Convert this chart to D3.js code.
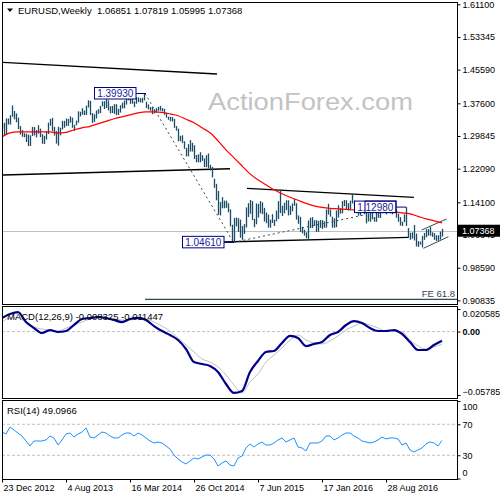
<!DOCTYPE html>
<html>
<head>
<meta charset="utf-8">
<script src="https://cdnjs.cloudflare.com/ajax/libs/d3/7.8.5/d3.min.js"></script>
<style>
  body { margin: 0; background: #fff; }
  text { font-family: "Liberation Sans", Arial, sans-serif; font-size: 9.5px; }
  .ax text { font-size: 9px; }
</style>
</head>
<body>
<svg id="chart" width="500" height="500"></svg>
<script>
// weekly EURUSD bars, first bar = week of 23 Dec 2012
const firstWeek = '23 Dec 2012';
const highs = [
  1.3270,1.3300,1.3404,1.3400,1.3480,1.3711,1.3580,1.3520,1.3420,1.3220,
  1.3125,1.3050,1.3040,1.3020,1.3000,1.3200,1.3200,1.3125,1.3240,1.3160,
  1.3030,1.2990,1.3100,1.3300,1.3390,1.3416,1.3200,1.3100,1.3205,1.3180,
  1.3345,1.3345,1.3400,1.3390,1.3450,1.3420,1.3250,1.3350,1.3570,1.3560,
  1.3645,1.3590,1.3705,1.3832,1.3820,1.3530,1.3500,1.3590,1.3620,1.3700,
  1.3810,1.3810,1.3893,1.3830,1.3690,1.3700,1.3740,1.3740,1.3630,1.3715,
  1.3775,1.3825,1.3915,1.3967,1.3935,1.3880,1.3810,1.3905,1.3900,1.3880,
  1.3890,1.3993,1.3800,1.3735,1.3670,1.3670,1.3620,1.3645,1.3675,1.3700,
  1.3650,1.3630,1.3530,1.3445,1.3440,1.3435,1.3390,1.3220,1.3160,1.2990,
  1.3000,1.2860,1.2705,1.2790,1.2887,1.2825,1.2765,1.2535,1.2550,1.2600,
  1.2530,1.2455,1.2530,1.2570,1.2300,1.2250,1.1970,1.1850,1.1680,1.1420,
  1.1535,1.1450,1.1450,1.1390,1.1245,1.0880,1.1040,1.1050,1.1035,1.1000,
  1.0850,1.0895,1.1290,1.1390,1.1467,1.1440,1.1020,1.1385,1.1375,1.1440,
  1.1410,1.1280,1.1170,1.1120,1.1000,1.1130,1.1000,1.1215,1.1440,1.1714,
  1.1330,1.1400,1.1460,1.1460,1.1330,1.1385,1.1495,1.1390,1.1100,1.1065,
  1.0830,1.0760,1.0700,1.0980,1.1045,1.1060,1.0985,1.0990,1.0970,1.0990,
  1.0990,1.0960,1.1240,1.1376,1.1240,1.1070,1.1030,1.1220,1.1340,1.1270,
  1.1440,1.1465,1.1460,1.1390,1.1450,1.1616,1.1450,1.1350,1.1250,1.1370,
  1.1415,1.1300,1.1428,1.1150,1.1185,1.1185,1.1060,1.1200,1.1235,1.1200,
  1.1366,1.1340,1.1230,1.1325,1.1285,1.1260,1.1260,1.1240,1.1140,1.1060,
  1.0950,1.1125,1.1299,1.0800,1.0690,1.0700,1.0875,1.0670,1.0490,1.0480,
  1.0615,1.0685,1.0775,1.0775,1.0830,1.0700,1.0680,1.0630,1.0630,1.0715,
  1.07819
];
const lows = [
  1.3180,1.3000,1.3020,1.3256,1.3256,1.3440,1.3380,1.3311,1.3145,1.3020,
  1.2966,1.2955,1.2843,1.2745,1.2750,1.2985,1.3000,1.2950,1.3040,1.2960,
  1.2800,1.2796,1.2900,1.3030,1.3230,1.3100,1.2995,1.2805,1.2755,1.3000,
  1.3140,1.3180,1.3220,1.3225,1.3300,1.3180,1.3105,1.3240,1.3300,1.3450,
  1.3490,1.3480,1.3485,1.3660,1.3480,1.3295,1.3320,1.3400,1.3510,1.3530,
  1.3690,1.3625,1.3650,1.3590,1.3520,1.3530,1.3510,1.3480,1.3480,1.3540,
  1.3640,1.3640,1.3730,1.3830,1.3750,1.3750,1.3670,1.3750,1.3790,1.3780,
  1.3775,1.3830,1.3650,1.3615,1.3585,1.3503,1.3520,1.3540,1.3580,1.3585,
  1.3570,1.3490,1.3420,1.3370,1.3335,1.3330,1.3180,1.3110,1.2860,1.2860,
  1.2815,1.2680,1.2500,1.2500,1.2615,1.2615,1.2440,1.2360,1.2360,1.2360,
  1.2395,1.2245,1.2245,1.2220,1.2165,1.2000,1.1755,1.1460,1.1115,1.1100,
  1.1270,1.1270,1.1280,1.1175,1.0840,1.0495,1.0461,1.0840,1.0710,1.0570,
  1.0520,1.0660,1.0815,1.1060,1.1140,1.0990,1.0820,1.0890,1.1050,1.1150,
  1.1130,1.0955,1.0915,1.0810,1.0810,1.0920,1.0850,1.0960,1.1015,1.1155,
  1.1085,1.1150,1.1225,1.1100,1.1110,1.1200,1.1330,1.1000,1.0900,1.0710,
  1.0675,1.0620,1.0560,1.0524,1.0800,1.0800,1.0850,1.0710,1.0710,1.0805,
  1.0780,1.0810,1.0810,1.1120,1.1070,1.0810,1.0810,1.0820,1.1050,1.1140,
  1.1150,1.1320,1.1235,1.1215,1.1220,1.1385,1.1310,1.1180,1.1095,1.1100,
  1.1230,1.1130,1.0912,1.0960,1.0950,1.1010,1.0950,1.0950,1.1045,1.1040,
  1.1155,1.1160,1.1125,1.1210,1.1150,1.1125,1.1170,1.1045,1.0950,1.0860,
  1.0850,1.0940,1.0850,1.0570,1.0520,1.0550,1.0505,1.0365,1.0352,1.0405,
  1.0340,1.0520,1.0580,1.0620,1.0620,1.0590,1.0520,1.0495,1.0500,1.0525,
  1.05995
];

// red moving average, one value every 4 weeks
const maStep = 4;
const maValues = [
  1.2966,1.3060,1.3084,1.3084,1.3084,1.3084,1.3084,1.3060,1.3072,1.3132,
  1.3179,1.3215,1.3274,1.3333,1.3393,1.3440,1.3487,1.3535,1.3559,1.3559,
  1.3547,1.3511,1.3464,1.3381,1.3298,1.3179,1.3060,1.2871,1.2657,1.2467,
  1.2277,1.2087,1.1945,1.1826,1.1708,1.1613,1.1530,1.1459,1.1387,1.1328,
  1.1292,1.1269,1.1257,1.1245,1.1233,1.1233,1.1221,1.1209,1.1209,1.1186,
  1.1162,1.1138,1.1079,1.1019,1.0972,1.0925
];

// MACD(12,26,9), one value every 4 weeks
const macdStep = 4;
const macdMain = [
  0.0124,0.016,0.0178,0.0087,0.0032,-0.0013,0.0014,-0.0004,0.0005,0.006,
  0.0115,0.0124,0.0133,0.0124,0.0105,0.0087,0.0115,0.0124,0.0105,0.005,
  0.0005,-0.0031,-0.0077,-0.0159,-0.0278,-0.0296,-0.0314,-0.0369,-0.0478,-0.056,
  -0.0542,-0.0369,-0.0268,-0.0186,-0.0177,-0.0104,-0.004,-0.0059,-0.0133,-0.0113,
  -0.0095,-0.0031,-0.0004,0.006,0.0096,0.0078,0.0032,0.0005,0.0005,0.0014,
  -0.0022,-0.0095,-0.0168,-0.0168,-0.0122,-0.008325
];
const macdSignal = [
  0.0087,0.0124,0.0124,0.0087,0.0042,0.0023,0.0014,0.0005,0.0032,0.006,
  0.0087,0.0115,0.0124,0.0124,0.0115,0.0105,0.0105,0.0115,0.0115,0.0087,
  0.005,0.0005,-0.0059,-0.0122,-0.0186,-0.025,-0.0278,-0.0323,-0.0396,-0.0487,
  -0.056,-0.046,-0.0387,-0.0278,-0.0214,-0.015,-0.0077,-0.0031,-0.0077,-0.0104,
  -0.0113,-0.0086,-0.004,0.0014,0.005,0.0078,0.006,0.0032,0.0005,0.0005,
  -0.0004,-0.0077,-0.0131,-0.0159,-0.0141,-0.011447
];

// RSI(14), one value every 2 weeks
const rsiStep = 2;
const rsiValues = [
  60.0,57.4,66.5,62.6,58.7,54.8,48.4,41.9,48.4,48.4,
  48.4,49.7,54.8,52.3,43.2,49.7,57.4,58.7,53.5,57.4,
  60.0,65.2,53.5,52.3,56.1,60.0,58.7,54.8,52.3,52.3,
  56.1,58.7,58.7,54.8,58.7,56.1,52.3,48.4,45.8,47.1,
  45.8,41.9,38.1,30.3,25.2,21.3,18.7,22.6,26.5,25.2,
  27.7,30.3,30.3,25.2,16.1,20.0,22.6,17.4,16.1,26.5,
  29.0,39.4,44.5,40.6,44.5,47.1,43.2,43.2,45.8,49.7,
  52.3,47.1,49.7,52.3,40.6,39.4,35.5,45.8,45.8,45.8,
  48.4,54.8,54.8,49.7,52.3,56.1,58.7,58.7,54.8,52.3,
  48.4,47.1,45.8,47.1,49.7,53.5,51.0,52.3,52.3,51.0,
  43.2,45.8,36.8,34.2,36.8,39.4,44.5,47.1,45.8,41.9,49.1
];

const priceTicks = [1.611, 1.53345, 1.4559, 1.376, 1.29845, 1.2209, 1.141, 1.06345, 0.9859, 0.90835];
const macdTicks = [0.020585, 0, -0.057859];
const rsiTicks = [100, 70, 30, 0];
const rsiLevels = [70, 30];
const dateTicks = [0, 32, 64, 96, 128, 160, 192];
const dateLabels = ['23 Dec 2012', '4 Aug 2013', '16 Mar 2014', '26 Oct 2014', '7 Jun 2015', '17 Jan 2016', '28 Aug 2016'];

// drawn objects: [week, price] pairs
const trendLines = [
  [[0, 1.4734], [107.5, 1.4456]],
  [[0, 1.2059], [114, 1.2208]],
  [[122.5, 1.1743], [206, 1.1530]],
  [[110.5, 1.0469], [203.5, 1.0580]]
];
const wedgeLines = [
  [[209.8, 1.0754], [222.3, 1.1015]],
  [[210.7, 1.0319], [223.2, 1.0595]]
];
const dashedLines = [
  [[71.5, 1.3993], [115.8, 1.0461]],
  [[115.8, 1.0461], [181, 1.1110]]
];
const swingLabels = [
  { text: '1.39930', week: 72, price: 1.3993 },
  { text: '1.04610', week: 116, price: 1.0461 },
  { text: '1.12980', week: 202, price: 1.1298 }
];
const feLevel = 0.9110, feStart = 71.5;
const lastPrice = 1.07368;
const title = 'EURUSD,Weekly  1.06851 1.07819 1.05995 1.07368';
const macdTitle = 'MACD(12,26,9) -0.008325 -0.011447';
const rsiTitle = 'RSI(14) 49.0966';

const svg = d3.select('#chart');
svg.append('rect').attr('width', 500).attr('height', 500).attr('fill', '#fff');

const x = d3.scaleLinear().domain([0, 227.5]).range([2, 457]);
const yP = d3.scaleLinear().domain([0.90835, 1.611]).range([300.4, 4.3]);
const yM = d3.scaleLinear().domain([-0.057859, 0.020585]).range([395, 309]);
const yR = d3.scaleLinear().domain([0, 100]).range([478.5, 401]);

const defs = svg.append('defs');
defs.append('clipPath').attr('id', 'clipMain').append('rect')
  .attr('x', 3).attr('y', 3).attr('width', 454).attr('height', 301);
defs.append('clipPath').attr('id', 'clipMacd').append('rect')
  .attr('x', 3).attr('y', 307).attr('width', 454).attr('height', 91);
defs.append('clipPath').attr('id', 'clipRsi').append('rect')
  .attr('x', 3).attr('y', 401).attr('width', 454).attr('height', 78);

const main = svg.append('g').attr('clip-path', 'url(#clipMain)');
const macdG = svg.append('g').attr('clip-path', 'url(#clipMacd)');
const rsiG = svg.append('g').attr('clip-path', 'url(#clipRsi)');

// watermark
svg.append('text').attr('x', 208).attr('y', 110)
  .attr('textLength', 205).attr('lengthAdjust', 'spacingAndGlyphs')
  .style('font-size', '23px').attr('fill', '#c3c3c3')
  .text('ActionForex.com');

// current price line
main.append('line').attr('x1', 2).attr('x2', 457)
  .attr('y1', Math.round(yP(lastPrice)) + 0.5).attr('y2', Math.round(yP(lastPrice)) + 0.5)
  .attr('stroke', '#c0c0c0');

// FE 61.8 level
main.append('line').attr('x1', x(feStart)).attr('x2', 457)
  .attr('y1', yP(feLevel)).attr('y2', yP(feLevel))
  .attr('stroke', '#2f4f4f').attr('stroke-width', 1.2);
svg.append('text').attr('x', 455).attr('y', 297).attr('text-anchor', 'end')
  .attr('fill', '#404058').text('FE 61.8');

const ptLine = d3.line().x(d => x(d[0])).y(d => yP(d[1]));

main.selectAll('.trend').data(trendLines).join('path')
  .attr('class', 'trend').attr('d', ptLine)
  .attr('fill', 'none').attr('stroke', '#000').attr('stroke-width', 1.3);

main.selectAll('.dash').data(dashedLines).join('path')
  .attr('class', 'dash').attr('d', ptLine)
  .attr('fill', 'none').attr('stroke', '#2f4f4f').attr('stroke-width', 1)
  .attr('stroke-dasharray', '2,3');

// price bars
main.selectAll('.bar').data(highs).join('line')
  .attr('class', 'bar')
  .attr('x1', (d, i) => Math.round(x(i)) + 0.5)
  .attr('x2', (d, i) => Math.round(x(i)) + 0.5)
  .attr('y1', d => yP(d))
  .attr('y2', (d, i) => yP(lows[i]))
  .attr('stroke', '#1b4d68').attr('stroke-width', 1.3);

main.selectAll('.wedge').data(wedgeLines).join('path')
  .attr('class', 'wedge').attr('d', ptLine)
  .attr('fill', 'none').attr('stroke', '#2f4f4f').attr('stroke-width', 1);

// moving average
main.append('path')
  .datum(maValues)
  .attr('d', d3.line().x((d, i) => x(i * maStep)).y(d => yP(d)).curve(d3.curveMonotoneX))
  .attr('fill', 'none').attr('stroke', '#ff0000').attr('stroke-width', 1.2);

// swing labels
swingLabels.forEach(s => {
  const yy = yP(s.price);
  const right = x(s.week) - 10;
  main.append('line').attr('x1', right).attr('x2', x(s.week))
    .attr('y1', yy).attr('y2', yy).attr('stroke', '#000080');
  main.append('rect').attr('x', right - 41.5).attr('y', yy - 6).attr('width', 41.5).attr('height', 11.5)
    .attr('fill', '#fff').attr('stroke', '#000080');
  main.append('text').attr('x', right - 20.75).attr('y', yy + 3.5).attr('text-anchor', 'middle')
    .attr('fill', '#1c1c96').style('font-size', '10px').text(s.text);
});
// second overlapping box on the last swing label
{
  const s = swingLabels[2];
  const yy = yP(s.price), right = x(s.week) - 10;
  main.append('rect').attr('x', right - 31).attr('y', yy - 6).attr('width', 31).attr('height', 11.5)
    .attr('fill', 'none').attr('stroke', '#000080');
}

// MACD
macdG.append('line').attr('x1', 2).attr('x2', 457)
  .attr('y1', yM(0)).attr('y2', yM(0))
  .attr('stroke', '#c0c0c0').attr('stroke-dasharray', '3,2');
macdG.append('path').datum(macdSignal)
  .attr('d', d3.line().x((d, i) => x(i * macdStep)).y(d => yM(d)).curve(d3.curveMonotoneX))
  .attr('fill', 'none').attr('stroke', '#c0c0c0').attr('stroke-width', 1);
macdG.append('path').datum(macdMain)
  .attr('d', d3.line().x((d, i) => x(i * macdStep)).y(d => yM(d)).curve(d3.curveMonotoneX))
  .attr('fill', 'none').attr('stroke', '#00008b').attr('stroke-width', 2.2);

// RSI
rsiG.selectAll('.lvl').data(rsiLevels).join('line')
  .attr('x1', 2).attr('x2', 457)
  .attr('y1', d => yR(d)).attr('y2', d => yR(d))
  .attr('stroke', '#c0c0c0').attr('stroke-dasharray', '3,2');
rsiG.append('path').datum(rsiValues)
  .attr('d', d3.line().x((d, i) => x(i * rsiStep)).y(d => yR(d)))
  .attr('fill', 'none').attr('stroke', '#1e90ff').attr('stroke-width', 1);

// panel frames
[[2.5, 2.5, 455, 302], [2.5, 306.5, 455, 92], [2.5, 400.5, 455, 79]].forEach(r => {
  svg.append('rect').attr('x', r[0]).attr('y', r[1]).attr('width', r[2]).attr('height', r[3])
    .attr('fill', 'none').attr('stroke', '#000');
});

// axes
function rightAxis(scale, ticks, fmt, nudge) {
  const g = svg.append('g').attr('class', 'ax').attr('transform', 'translate(457.5,0)')
    .call(d3.axisRight(scale).tickValues(ticks).tickFormat(fmt).tickSize(3).tickPadding(2));
  g.attr('font-family', null).attr('font-size', null);
  g.select('.domain').remove();
  g.selectAll('line').attr('stroke', '#000');
  g.selectAll('text').attr('fill', '#000')
    .attr('transform', (d, i) => `translate(0,${nudge[i] || 0})`);
  return g;
}
rightAxis(yP, priceTicks, d3.format('.5f'), []);
const mAx = rightAxis(yM, macdTicks, d => d === 0 ? '0.00' : d3.format('.6f')(d), [5, 0, -3]);
mAx.selectAll('text').filter(d => d === 0).style('font-weight', 'bold');
rightAxis(yR, rsiTicks, d3.format('d'), [6, 0, 0, -6]);

// last price box
const lpY = yP(lastPrice);
svg.append('rect').attr('x', 458).attr('y', lpY - 6).attr('width', 42).attr('height', 12).attr('fill', '#000');
svg.append('text').attr('class', 'ax').attr('x', 462).attr('y', lpY + 3.5).attr('fill', '#fff')
  .style('font-size', '9px').text(lastPrice.toFixed(5));

// date axis
const xa = svg.append('g').attr('class', 'ax').attr('transform', 'translate(0,479.5)')
  .call(d3.axisBottom(x).tickValues(dateTicks).tickFormat((d, i) => dateLabels[i]).tickSize(3).tickPadding(2));
xa.attr('font-family', null).attr('font-size', null);
xa.select('.domain').remove();
xa.selectAll('line').attr('stroke', '#000');
xa.selectAll('text').attr('fill', '#000').attr('text-anchor', 'start').attr('dx', 1);

// titles
svg.append('path').attr('d', 'M7,8.5 L13,8.5 L10,12 Z').attr('fill', '#000');
svg.append('text').attr('x', 18).attr('y', 14).attr('fill', '#000')
  .attr('xml:space', 'preserve').text(title);
svg.append('text').attr('x', 7).attr('y', 319.5).attr('fill', '#000').text(macdTitle);
svg.append('text').attr('x', 7).attr('y', 413.5).attr('fill', '#000').text(rsiTitle);
</script>
</body>
</html>
